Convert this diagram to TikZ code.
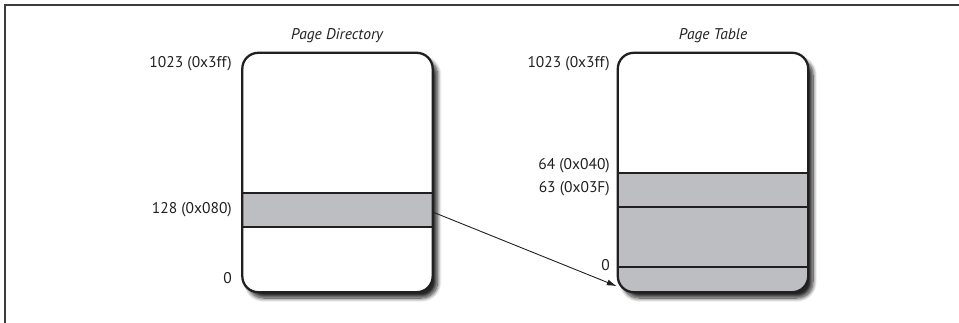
\documentclass[tikz,border=0pt]{standalone}
\usepackage{fontspec}
\setmainfont{PT Sans}
\usetikzlibrary{arrows.meta,shadows.blur}
\definecolor{slotgray}{RGB}{189,190,193}
\definecolor{framegray}{RGB}{60,60,60}
\definecolor{ink}{RGB}{35,31,32}
\tikzset{
  memshape/.style={fill=white, minimum width=190pt, minimum height=239pt, inner sep=0pt,
    rounded corners=16pt,
    blur shadow={shadow xshift=5pt, shadow yshift=-6pt, shadow blur steps=10, shadow blur radius=4pt, shadow opacity=85}},
  border/.style={draw=ink, line width=2.3pt, rounded corners=16pt},
  divider/.style={draw=ink, line width=2pt},
  lbl/.style={anchor=east, inner sep=0pt, font=\fontsize{15.5}{18}\selectfont, text=ink},
  ttl/.style={inner sep=0pt, font=\fontsize{15.5}{18}\selectfont\itshape, text=ink},
  link/.style={draw=ink, line width=0.9pt, -{Latex[length=10pt,width=6pt]}}
}
\begin{document}
\begin{tikzpicture}[x=1pt,y=-1pt]
\useasboundingbox (0,0) rectangle (959,323);
\draw[framegray, line width=1.3pt] (959,5) -- (5,5) -- (5,323);
% page directory
\node[memshape] (pd) at (337.5,172.5) {};
\node[fill=slotgray, minimum width=190pt, minimum height=34pt, inner sep=0pt] (slot) at (337.5,210) {};
\draw[divider] (slot.north west) -- (slot.north east);
\draw[divider] (slot.south west) -- (slot.south east);
\draw[border] (pd.south west) rectangle (pd.north east);
\node[ttl] (pdt) at (337,36) {Page Directory};
\node[lbl] (pd1) at (232,64) {1023 (0x3ff)};
\node[lbl] (pd2) at (232,210) {128 (0x080)};
\node[lbl] (pd3) at (232,278) {0};
% page table
\node[memshape] (pt) at (713,172.5) {};
\begin{scope}
\clip[rounded corners=16pt] (pt.south west) rectangle (pt.north east);
\fill[slotgray] (pt.south west) rectangle (pt.east |- 0,173);
\end{scope}
\draw[divider] (pt.west |- 0,173) -- (pt.east |- 0,173);
\draw[divider] (pt.west |- 0,207) -- (pt.east |- 0,207);
\draw[divider] (pt.west |- 0,267) -- (pt.east |- 0,267);
\draw[border] (pt.south west) rectangle (pt.north east);
\node[ttl] (ptt) at (713,36) {Page Table};
\node[lbl] (pt1) at (610,64) {1023 (0x3ff)};
\node[lbl] (pt2) at (610,166) {64 (0x040)};
\node[lbl] (pt3) at (610,189) {63 (0x03F)};
\node[lbl] (pt4) at (610,265) {0};
% link
\draw[link] ([yshift=-2pt]slot.east) -- ([yshift=6pt,xshift=-1pt]pt.south west);
\end{tikzpicture}
\end{document}
